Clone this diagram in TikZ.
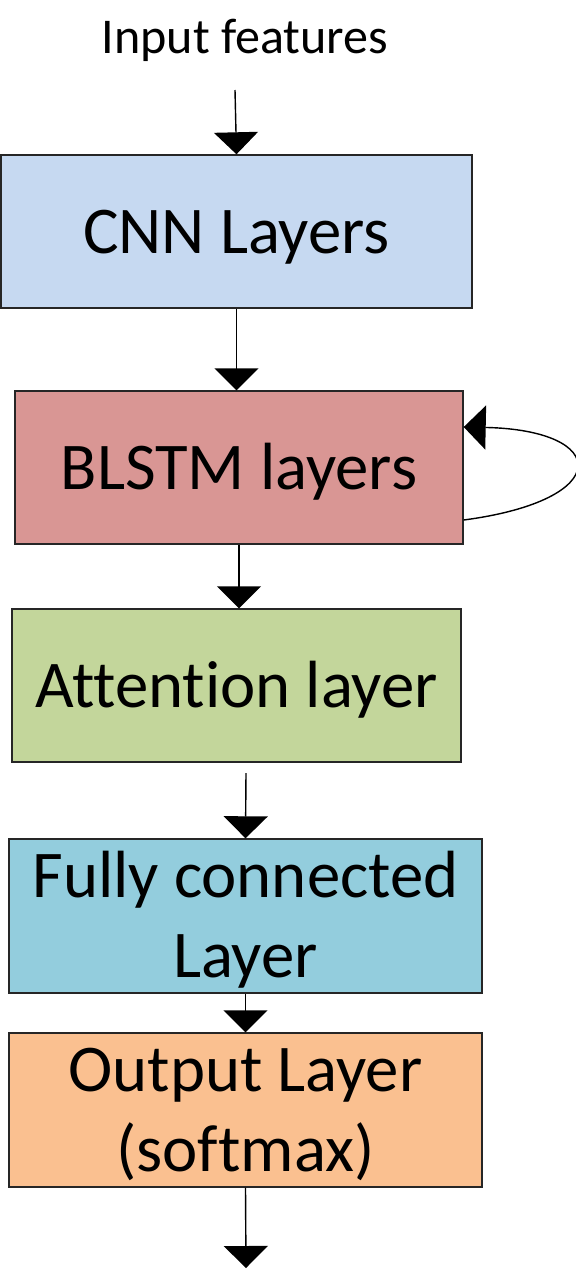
\documentclass[tikz,border=0pt]{standalone}
\usepackage{fontspec}
\setmainfont{Carlito}[Ligatures=NoCommon]
\usetikzlibrary{arrows.meta}
\definecolor{cnncol}{HTML}{C6D9F1}
\definecolor{lstmcol}{HTML}{D99694}
\definecolor{attcol}{HTML}{C3D69B}
\definecolor{fccol}{HTML}{93CDDD}
\definecolor{outcol}{HTML}{FAC090}
\begin{document}
\begin{tikzpicture}[line width=0.8pt,
  layer/.style={draw=black!85, inner sep=0pt, align=center, minimum height=3.06cm,
    font=\fontsize{38}{45.5}\selectfont},
  oneline/.style={text height=0.86cm, text depth=0pt},
  twoline/.style={text height=2.46cm, text depth=0pt},
  flow/.style={-{Triangle[width=0.88cm,length=0.44cm]}}]
\useasboundingbox (0,0) rectangle (11.52,-25.4);
% boxes
\node [anchor=base, font=\fontsize{28.5}{34}\selectfont] (inp) at (4.9,-1.06) {Input features};
\node [layer, oneline, fill=cnncol, minimum width=9.42cm] (cnn) at (4.73,-4.63) {CNN Layers};
\node [layer, oneline, fill=lstmcol, minimum width=8.96cm] (lstm) at (4.78,-9.35) {BLSTM layers};
\node [layer, oneline, fill=attcol, minimum width=8.98cm] (att) at (4.73,-13.71) {Attention layer};
\node [layer, twoline, fill=fccol, minimum width=9.46cm, minimum height=3.08cm] (fc) at (4.91,-18.32) {Fully connected\\Layer};
\node [layer, twoline, fill=outcol, minimum width=9.46cm, minimum height=3.08cm] (out) at (4.91,-22.2) {Output Layer\\(softmax)};
\coordinate (in0) at (4.7,-1.8);
\coordinate (fc0) at (4.92,-15.46);
\coordinate (end) at (4.92,-25.36);
% arrows
\draw [flow] (in0) -- (cnn.north);
\draw [flow] (cnn.south) -- (cnn.south |- lstm.north);
\draw [flow] (lstm.south) -- (lstm.south |- att.north);
\draw [flow] (fc0) -- (fc.north);
\draw [flow] (fc.south) -- (out.north);
\draw [flow] (out.south) -- (end);
\draw [flow] ([yshift=-1.05cm]lstm.east) .. controls (12.3,-10.0) and (12.2,-8.6) .. ([yshift=0.81cm]lstm.east);
\end{tikzpicture}
\end{document}
